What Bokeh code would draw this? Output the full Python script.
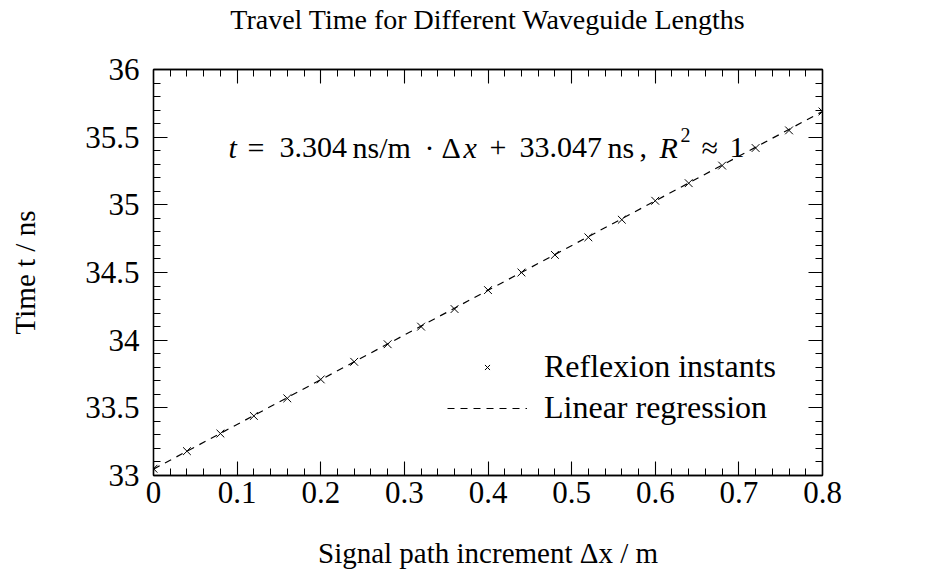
from bokeh.plotting import figure
from bokeh.models import (Range1d, LinearAxis, FixedTicker, CustomJSTickFormatter,
                          Legend, LegendItem, Label)
from bokeh.embed import file_html
from bokeh.resources import INLINE

# ---------------- data ----------------
x_vals = [0.00, 0.04, 0.08, 0.12, 0.16, 0.20, 0.24, 0.28, 0.32, 0.36, 0.40,
          0.44, 0.48, 0.52, 0.56, 0.60, 0.64, 0.68, 0.72, 0.76, 0.80]
t_vals = [33.05, 33.18, 33.31, 33.44, 33.57, 33.71, 33.84, 33.97, 34.10, 34.23, 34.37,
          34.50, 34.63, 34.76, 34.89, 35.03, 35.16, 35.29, 35.42, 35.55, 35.69]
fit_x = [0.0, 0.8]
fit_t = [33.047, 35.690]

x_major = [0.0, 0.1, 0.2, 0.3, 0.4, 0.5, 0.6, 0.7, 0.8]
x_minor = [0.02, 0.04, 0.06, 0.08, 0.12, 0.14, 0.16, 0.18, 0.22, 0.24, 0.26, 0.28,
           0.32, 0.34, 0.36, 0.38, 0.42, 0.44, 0.46, 0.48, 0.52, 0.54, 0.56, 0.58,
           0.62, 0.64, 0.66, 0.68, 0.72, 0.74, 0.76, 0.78]
y_major = [33.0, 33.5, 34.0, 34.5, 35.0, 35.5, 36.0]
y_minor = [33.1, 33.2, 33.3, 33.4, 33.6, 33.7, 33.8, 33.9, 34.1, 34.2, 34.3, 34.4,
           34.6, 34.7, 34.8, 34.9, 35.1, 35.2, 35.3, 35.4, 35.6, 35.7, 35.8, 35.9]

title_text = "Travel Time for Different Waveguide Lengths"
x_label = "Signal path increment \u0394x / m"
y_label = "Time t / ns"
legend_labels = ["Reflexion instants", "Linear regression"]

FONT = "Liberation Serif"

# frame placement (pixels)
W, H = 927, 578
FL, FR, FT, FB = 153, 822, 67, 475

p = figure(width=W, height=H, output_backend="svg", toolbar_location=None,
           x_range=Range1d(0, 0.8), y_range=Range1d(33, 36),
           min_border_left=FL, min_border_right=W - FR,
           min_border_top=FT, min_border_bottom=H - FB,
           x_axis_type=None, y_axis_type=None)
p.xgrid.visible = False
p.ygrid.visible = False
p.outline_line_color = "black"
p.outline_line_width = 1.3
p.background_fill_color = "white"
p.border_fill_color = "white"

fmt = CustomJSTickFormatter(code="return (Math.round(tick*100)/100).toString();")
blank_fmt = CustomJSTickFormatter(code="return '';")


def style_axis(ax, show_labels):
    ax.major_tick_in = 14
    ax.major_tick_out = 0
    ax.minor_tick_in = 7
    ax.minor_tick_out = 0
    ax.axis_line_color = "black"
    ax.axis_line_width = 1.3
    ax.major_tick_line_color = "black"
    ax.major_tick_line_width = 1.1
    ax.minor_tick_line_color = "black"
    ax.minor_tick_line_width = 1.0
    ax.major_label_text_font = FONT
    ax.major_label_text_color = "black"
    ax.axis_label_text_font = FONT
    ax.axis_label_text_font_style = "normal"
    ax.axis_label_text_color = "black"
    if show_labels:
        ax.formatter = fmt
        ax.major_label_text_font_size = "31px"
    else:
        ax.formatter = blank_fmt
        ax.major_label_text_font_size = "0px"
        ax.major_label_standoff = 0


xb = LinearAxis(ticker=FixedTicker(ticks=x_major, minor_ticks=x_minor), axis_label=x_label)
style_axis(xb, True)
xb.major_label_standoff = 6
xb.axis_label_text_font_size = "29px"
xb.axis_label_standoff = 31
p.add_layout(xb, "below")

# top axis carries the title as its label
xt = LinearAxis(ticker=FixedTicker(ticks=x_major, minor_ticks=x_minor), axis_label=title_text)
style_axis(xt, False)
xt.axis_label_text_font_size = "28px"
xt.axis_label_standoff = 35
p.add_layout(xt, "above")

yl = LinearAxis(ticker=FixedTicker(ticks=y_major, minor_ticks=y_minor), axis_label=y_label)
style_axis(yl, True)
yl.major_label_standoff = 14
yl.axis_label_text_font_size = "29px"
yl.axis_label_standoff = 41
p.add_layout(yl, "left")

yr = LinearAxis(ticker=FixedTicker(ticks=y_major, minor_ticks=y_minor))
style_axis(yr, False)
p.add_layout(yr, "right")

# ---------------- marks ----------------
pts = p.scatter(x_vals, t_vals, marker="x", size=11, line_color="black", line_width=1.0)
fit = p.line(fit_x, fit_t, line_color="black", line_width=1.2, line_dash="7 6")

legend = Legend(items=[LegendItem(label=legend_labels[0], renderers=[pts]),
                       LegendItem(label=legend_labels[1], renderers=[fit])],
                location=(447 - FL, FB - 428), orientation="vertical",
                glyph_width=80, glyph_height=18, label_height=41, label_standoff=17,
                spacing=0, padding=0, margin=0,
                label_text_font=FONT, label_text_font_size="32px",
                label_text_color="black", label_text_baseline="middle",
                border_line_alpha=0, background_fill_alpha=0)
p.add_layout(legend)


# ---------------- equation (inside the frame) ----------------
def px_to_x(px):
    return (px - FL) / (FR - FL) * 0.8


def py_to_y(py):
    return 36 - (py - FT) / (FB - FT) * 3.0


base = 145
sup = 133
eq = [
    ("t", 228, "italic", "30px", base),
    ("=", 247, "normal", "30px", base),
    ("3.304", 279, "normal", "30px", base),
    ("ns/m", 352, "normal", "30px", base),
    ("\u00b7", 424, "normal", "30px", base),
    ("\u0394", 441, "normal", "30px", base),
    ("x", 463, "italic", "30px", base),
    ("+", 489, "normal", "30px", base),
    ("33.047", 519, "normal", "30px", base),
    ("ns", 607, "normal", "30px", base),
    (",", 639, "normal", "30px", base),
    ("R", 659, "italic", "30px", base),
    ("2", 680, "normal", "20px", sup),
    ("\u2248", 701, "normal", "30px", base),
    ("1", 729, "normal", "30px", base),
]
for txt, px, style, size, yy in eq:
    p.add_layout(Label(x=px_to_x(px), y=py_to_y(yy), text=txt, text_font=FONT,
                       text_font_style=style, text_font_size=size,
                       text_color="black", text_align="left",
                       text_baseline="alphabetic"))

open("out.html", "w").write(file_html(p, INLINE))
